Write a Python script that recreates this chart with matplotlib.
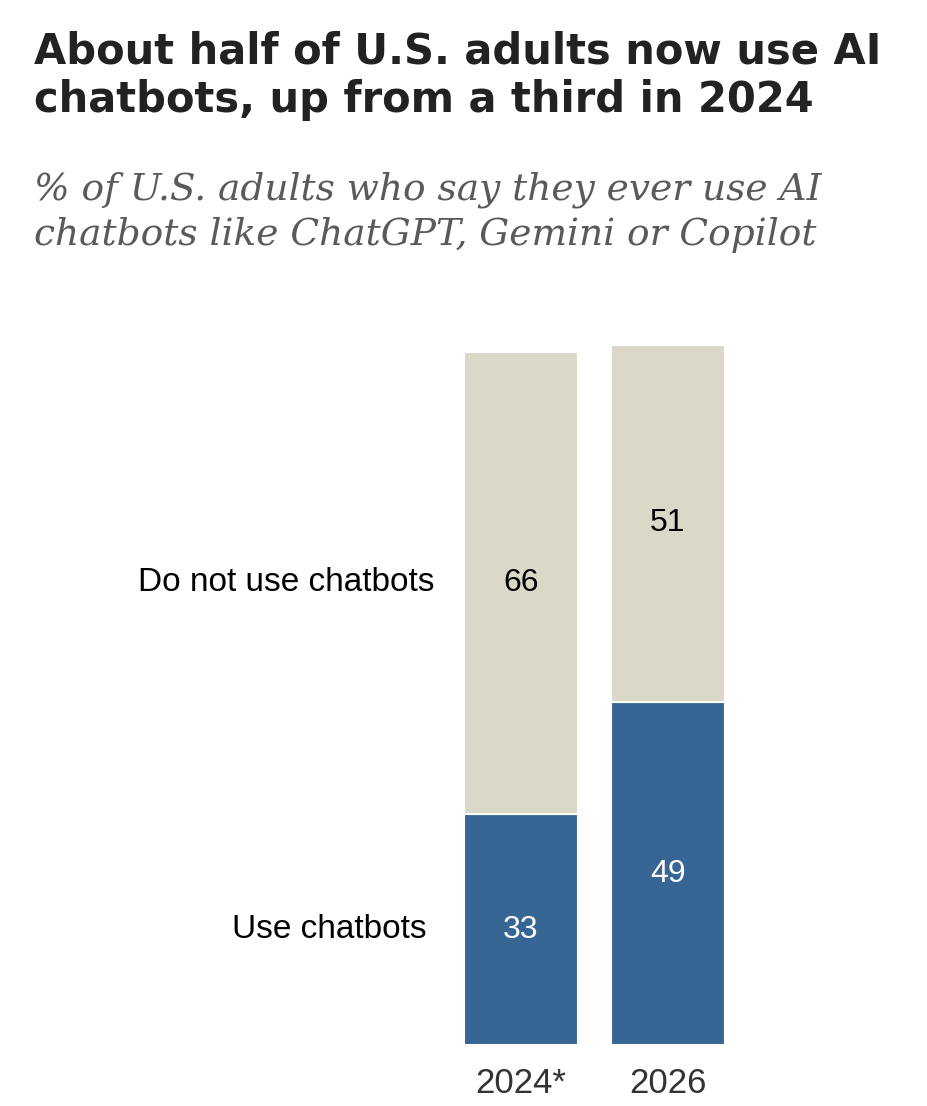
import matplotlib.pyplot as plt

years = ['2024*', '2026']
use = [33, 49]
not_use = [66, 51]
xpos = [521, 668]

fig = plt.figure(figsize=(9.28, 11.06), dpi=100)
ax = fig.add_axes([0, 1 - 1045 / 1106, 1, 700 / 1106])

ax.bar(xpos, use, width=114, color='#376694', edgecolor='white', linewidth=1.5)
ax.bar(xpos, not_use, width=114, bottom=use, color='#dcd8c8', edgecolor='white', linewidth=1.5)

for x, u, n in zip(xpos, use, not_use):
    ax.text(x, u / 2, str(u), ha='center', va='center', fontsize=23, color='white', family='Liberation Sans')
    ax.text(x, u + n / 2, str(n), ha='center', va='center', fontsize=23, color='black', family='Liberation Sans')
    
ax.text(435, 66, 'Do not use chatbots', ha='right', va='center', fontsize=24, family='Liberation Sans')
ax.text(427, 16.5, 'Use chatbots', ha='right', va='center', fontsize=24, family='Liberation Sans')

for x, y in zip(xpos, years):
    ax.text(x, -5.5, y, ha='center', va='center', fontsize=25, color='#333333', family='Liberation Sans')

ax.set_xlim(0, 928)
ax.set_ylim(0, 100)
ax.axis('off')

fig.text(34 / 928, 1 - 30 / 1106, 'About half of U.S. adults now use AI\nchatbots, up from a third in 2024',
         ha='left', va='top', fontsize=30, fontweight='bold', color='#222222', family='DejaVu Sans', linespacing=1.2)
fig.text(34 / 928, 1 - 172 / 1106, '% of U.S. adults who say they ever use AI\nchatbots like ChatGPT, Gemini or Copilot',
         ha='left', va='top', fontsize=27, style='italic', color='#5a5a5a', family='DejaVu Serif', linespacing=1.3)

plt.savefig('out.png', dpi=100)
